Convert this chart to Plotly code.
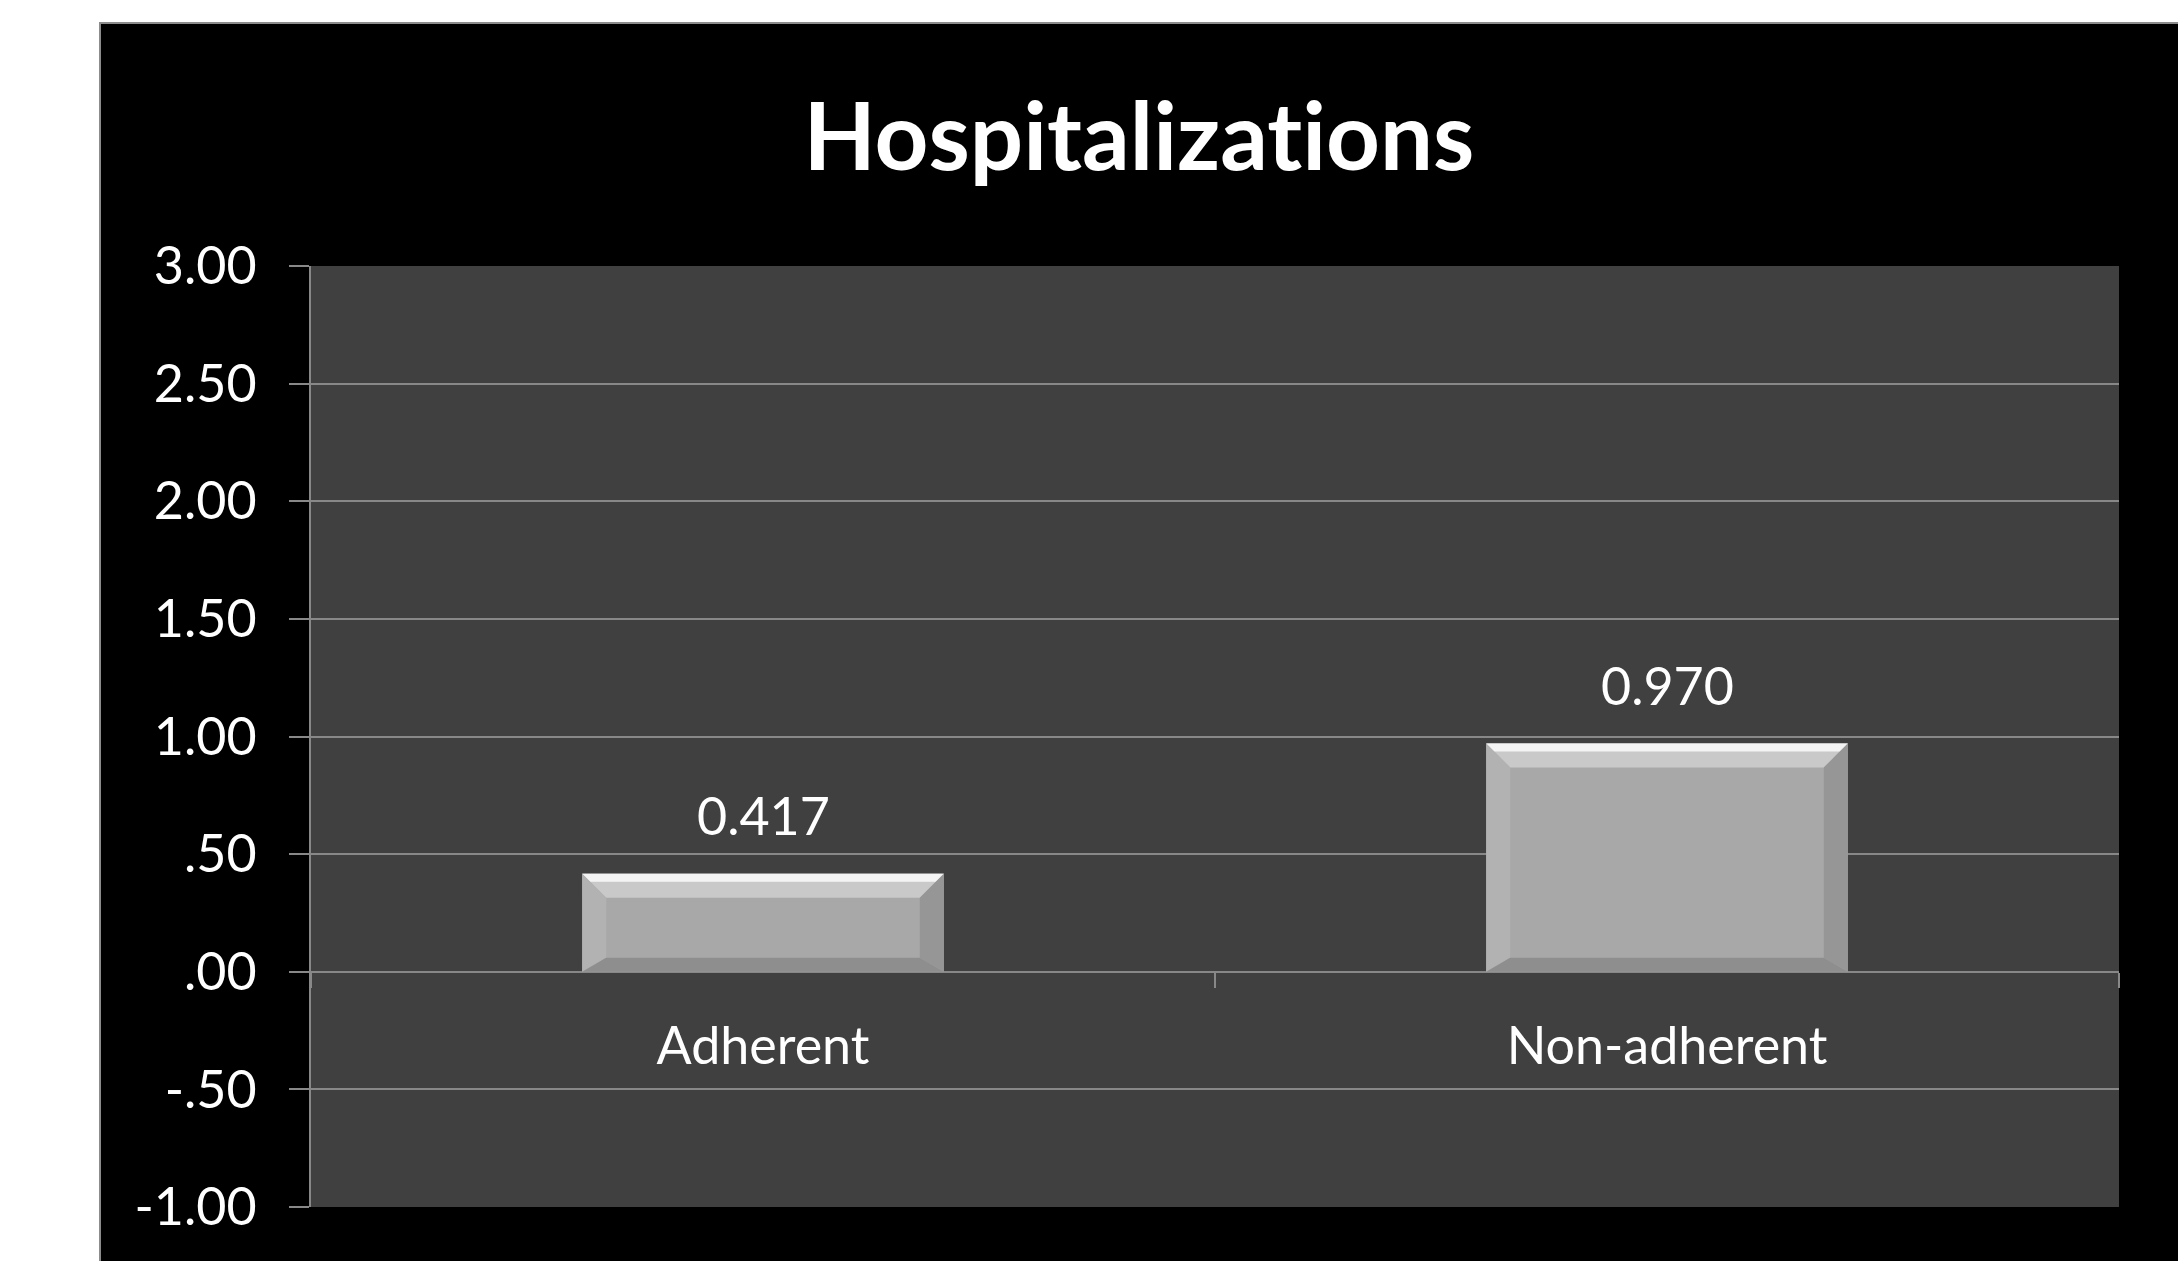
import plotly.graph_objects as go

# ---- data ----
categories = ["Adherent", "Non-adherent"]
values = [0.417, 0.970]
y_tickvals = [-1.0, -0.5, 0.0, 0.5, 1.0, 1.5, 2.0, 2.5, 3.0]
y_ticktext = ["-1.00", "-.50", ".00", ".50", "1.00", "1.50", "2.00", "2.50", "3.00"]
title_text = "Hospitalizat\u200cions"  # ZWNJ avoids the 'ti' ligature

W, H = 2178, 1261
L, R, T, B = 311, 2119, 266, 1207
pw, ph = R - L, B - T


def px2paper_x(px):
    return (px - L) / pw


def px2paper_y(py):
    return (B - py) / ph


GRID = "#888888"
FONT = "Lato"

x_idx = list(range(len(categories)))
bar_w = 0.4

fig = go.Figure()
fig.add_trace(go.Bar(
    x=x_idx, y=values, width=bar_w,
    marker=dict(color="#a8a8a8", line=dict(width=0)),
    hoverinfo="skip", showlegend=False,
))

shapes = []
# white margins outside the black chart area + its thin border
shapes.append(dict(type="rect", xref="paper", yref="paper", layer="below",
                   x0=px2paper_x(-10), x1=px2paper_x(100), y0=px2paper_y(H + 10), y1=px2paper_y(-10),
                   fillcolor="white", line=dict(width=0)))
shapes.append(dict(type="rect", xref="paper", yref="paper", layer="below",
                   x0=px2paper_x(-10), x1=px2paper_x(W + 10), y0=px2paper_y(23), y1=px2paper_y(-10),
                   fillcolor="white", line=dict(width=0)))
shapes.append(dict(type="path", xref="paper", yref="paper", layer="below",
                   path=f"M {px2paper_x(100)},{px2paper_y(H+10)} L {px2paper_x(100)},{px2paper_y(23)} L {px2paper_x(W+10)},{px2paper_y(23)}",
                   line=dict(color="#8c8c8c", width=2)))

# bevel faces on each bar, derived from data values
dx = 24 / (pw / 2)
dy_top = 24 / (ph / 4)
dy_bot = 14 / (ph / 4)
hl = 8 / (ph / 4)
for i, v in zip(x_idx, values):
    x0, x1 = i - bar_w / 2, i + bar_w / 2
    faces = [
        (f"M {x0},{v} L {x1},{v} L {x1-dx},{v-dy_top} L {x0+dx},{v-dy_top} Z", "#c9c9c9"),
        (f"M {x0},{v} L {x1},{v} L {x1-dx*hl/dy_top},{v-hl} L {x0+dx*hl/dy_top},{v-hl} Z", "#f4f4f4"),
        (f"M {x0},0 L {x0},{v} L {x0+dx},{v-dy_top} L {x0+dx},{dy_bot} Z", "#b2b2b2"),
        (f"M {x1},0 L {x1},{v} L {x1-dx},{v-dy_top} L {x1-dx},{dy_bot} Z", "#969696"),
        (f"M {x0},0 L {x1},0 L {x1-dx},{dy_bot} L {x0+dx},{dy_bot} Z", "#8e8e8e"),
    ]
    for path, col in faces:
        shapes.append(dict(type="path", xref="x", yref="y", layer="above",
                           path=path, fillcolor=col, line=dict(width=0)))

annotations = []
for i, v in zip(x_idx, values):
    annotations.append(dict(x=i, y=v, xref="x", yref="y", text=f"{v:.3f}",
                            showarrow=False, yanchor="middle", yshift=59,
                            font=dict(family=FONT, size=52, color="white")))

fig.update_layout(
    width=W, height=H,
    margin=dict(l=L, r=W - R, t=T, b=H - B, pad=0),
    paper_bgcolor="black",
    plot_bgcolor="#404040",
    title=dict(text=title_text, x=1139 / W, xref="container", xanchor="center",
               y=1 - 137 / H, yref="container", yanchor="middle",
               font=dict(family=FONT, size=94, color="white", weight="bold")),
    shapes=shapes,
    annotations=annotations,
    showlegend=False,
    xaxis=dict(
        range=[-0.5, 1.5], tickvals=x_idx, ticktext=categories, ticks="",
        showgrid=False, zeroline=False, showline=False,
        anchor="free", position=0.25,
        tickfont=dict(family=FONT, size=52, color="white"),
        ticklabelstandoff=39,
        minor=dict(tickvals=[-0.5, 0.5, 1.5], ticks="outside", ticklen=15,
                   tickcolor=GRID, tickwidth=2, showgrid=False),
    ),
    yaxis=dict(
        range=[-1, 3], tickvals=y_tickvals, ticktext=y_ticktext,
        ticks="outside", ticklen=20, tickcolor=GRID, tickwidth=2,
        showgrid=True, gridcolor=GRID, gridwidth=2,
        zeroline=True, zerolinecolor=GRID, zerolinewidth=2,
        showline=True, linecolor=GRID, linewidth=2,
        tickfont=dict(family=FONT, size=52, color="white"),
        ticklabelstandoff=22,
    ),
)

fig.write_html("out.html")
